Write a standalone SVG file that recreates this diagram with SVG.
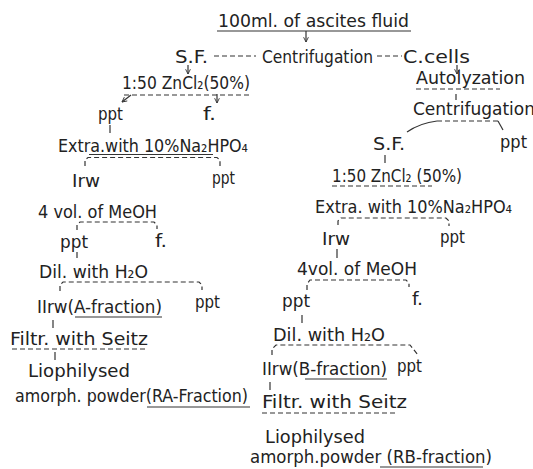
<svg xmlns="http://www.w3.org/2000/svg" width="533" height="469" viewBox="0 0 533 469">
<defs>
<style>
text{font-family:"DejaVu Sans Condensed","DejaVu Sans","Liberation Sans",sans-serif;font-size:18px;fill:#222;font-stretch:condensed}
.ul{stroke:#333;stroke-width:1.2;fill:none}
.du{stroke:#333;stroke-width:1.2;fill:none;stroke-dasharray:5 3}
.c{stroke:#333;stroke-width:1.2;fill:none}
.cd{stroke:#333;stroke-width:1.2;fill:none;stroke-dasharray:5 3}
.a{stroke:#333;stroke-width:1.2;fill:none;marker-end:url(#ah)}
</style>
<marker id="ah" viewBox="0 0 10 10" refX="9" refY="5" markerWidth="6" markerHeight="6" orient="auto" markerUnits="userSpaceOnUse">
<path d="M1,1 L9,5 L1,9" fill="none" stroke="#333" stroke-width="1.5"/>
</marker>
</defs>
<rect width="533" height="469" fill="#fff"/>

<g id="connectors">
<line class="a" x1="306" y1="31" x2="306" y2="42"/>
<line class="cd" x1="214" y1="56" x2="256" y2="56"/>
<line class="cd" x1="377" y1="56" x2="402" y2="56"/>
<line class="a" x1="188" y1="65" x2="188" y2="74"/>
<line class="a" x1="457" y1="65" x2="457" y2="74"/>
<line class="a" x1="131" y1="95" x2="122" y2="102"/>
<line class="a" x1="217" y1="94" x2="217" y2="103"/>
<line class="c" x1="110" y1="125" x2="110" y2="133"/>
<path class="cd" d="M85,166 L85,160 L88,157.5 L217,157.5 L220,160 L220,166"/>
<path class="cd" d="M77,230 L77,225 L80,222 L154,222 L157,225 L157,229"/>
<line class="c" x1="77" y1="252" x2="77" y2="258"/>
<path class="cd" d="M60,291 L60,285 L63,282 L199,282 L202,285 L202,290"/>
<line class="c" x1="53" y1="320" x2="53" y2="328"/>
<line class="c" x1="55" y1="352" x2="55" y2="360"/>
<line class="c" x1="456" y1="94" x2="456" y2="100"/>
<path class="c" d="M407,132 Q420,123 437,121"/>
<line class="c" x1="498" y1="121" x2="503" y2="130"/>
<line class="c" x1="385" y1="155" x2="385" y2="163"/>
<path class="cd" d="M338,225 L338,221 L341,218 L446,218 L449,221 L449,226"/>
<line class="c" x1="337" y1="249" x2="337" y2="258"/>
<path class="cd" d="M307,290 L307,284 L310,280 L406,280 L409,283 L409,287"/>
<line class="c" x1="302" y1="315" x2="302" y2="323"/>
<path class="cd" d="M272,355 L272,349 L276,345 L410,345 L418,355"/>
<line class="c" x1="270" y1="382" x2="270" y2="390"/>
</g>

<g id="n-title">
<text x="218" y="27" textLength="191" lengthAdjust="spacingAndGlyphs">100ml. of ascites fluid</text>
<line class="ul" x1="217" y1="31" x2="411" y2="31"/>
</g>
<g id="n-sf1"><text x="175" y="63" textLength="33" lengthAdjust="spacingAndGlyphs">S.F.</text></g>
<g id="n-centrif1"><text x="262" y="63" textLength="111" lengthAdjust="spacingAndGlyphs">Centrifugation</text></g>
<g id="n-ccells"><text x="403" y="63" textLength="67" lengthAdjust="spacingAndGlyphs">C.cells</text></g>

<g id="n-zn1">
<text x="122" y="89" textLength="128" lengthAdjust="spacingAndGlyphs">1:50 ZnCl₂(50%)</text>
<line class="du" x1="124" y1="95" x2="250" y2="95"/>
</g>
<g id="n-ppt1"><text x="98" y="120" textLength="25" lengthAdjust="spacingAndGlyphs">ppt</text></g>
<g id="n-f1"><text x="203" y="120" textLength="13" lengthAdjust="spacingAndGlyphs">f.</text></g>
<g id="n-extra1">
<text x="58" y="152" textLength="190" lengthAdjust="spacingAndGlyphs">Extra.with 10%Na₂HPO₄</text>
<line class="ul" x1="89" y1="154.5" x2="213" y2="154.5"/>
</g>
<g id="n-irw1"><text x="72" y="187" textLength="28" lengthAdjust="spacingAndGlyphs">Irw</text></g>
<g id="n-ppt2"><text x="212" y="184" textLength="23" lengthAdjust="spacingAndGlyphs">ppt</text></g>
<g id="n-meoh1"><text x="38" y="218" textLength="119" lengthAdjust="spacingAndGlyphs">4 vol. of MeOH</text></g>
<g id="n-ppt3"><text x="60" y="248" textLength="28" lengthAdjust="spacingAndGlyphs">ppt</text></g>
<g id="n-f2"><text x="155" y="247" textLength="12" lengthAdjust="spacingAndGlyphs">f.</text></g>
<g id="n-dil1"><text x="39" y="278" textLength="109" lengthAdjust="spacingAndGlyphs">Dil. with H₂O</text></g>
<g id="n-afrac">
<text x="37" y="313" textLength="125" lengthAdjust="spacingAndGlyphs">IIrw(A-fraction)</text>
<line class="ul" x1="75" y1="317" x2="162" y2="317"/>
</g>
<g id="n-ppt4"><text x="195" y="308" textLength="25" lengthAdjust="spacingAndGlyphs">ppt</text></g>
<g id="n-filtr1">
<text x="10" y="345" textLength="138" lengthAdjust="spacingAndGlyphs">Filtr. with Seitz</text>
<line class="du" x1="12" y1="349" x2="147" y2="349"/>
</g>
<g id="n-lio1"><text x="28" y="377" textLength="102" lengthAdjust="spacingAndGlyphs">Liophilysed</text></g>
<g id="n-ra">
<text x="15" y="402" textLength="233" lengthAdjust="spacingAndGlyphs">amorph. powder(RA-Fraction)</text>
<line class="ul" x1="147" y1="407" x2="250" y2="407"/>
</g>

<g id="n-autol">
<text x="416" y="84" textLength="109" lengthAdjust="spacingAndGlyphs">Autolyzation</text>
<line class="du" x1="416" y1="89" x2="500" y2="89"/>
</g>
<g id="n-centrif2">
<text x="413" y="115" textLength="122" lengthAdjust="spacingAndGlyphs">Centrifugation</text>
<line class="du" x1="437" y1="121" x2="498" y2="121"/>
</g>
<g id="n-sf2"><text x="373" y="150" textLength="32" lengthAdjust="spacingAndGlyphs">S.F.</text></g>
<g id="n-ppt5"><text x="500" y="148" textLength="27" lengthAdjust="spacingAndGlyphs">ppt</text></g>
<g id="n-zn2">
<text x="332" y="182" textLength="130" lengthAdjust="spacingAndGlyphs">1:50 ZnCl₂ (50%)</text>
<line class="du" x1="332" y1="186" x2="432" y2="186"/>
</g>
<g id="n-extra2"><text x="315" y="213" textLength="197" lengthAdjust="spacingAndGlyphs">Extra. with 10%Na₂HPO₄</text></g>
<g id="n-irw2"><text x="322" y="245" textLength="28" lengthAdjust="spacingAndGlyphs">Irw</text></g>
<g id="n-ppt6"><text x="440" y="243" textLength="25" lengthAdjust="spacingAndGlyphs">ppt</text></g>
<g id="n-meoh2"><text x="297" y="275" textLength="120" lengthAdjust="spacingAndGlyphs">4vol. of MeOH</text></g>
<g id="n-ppt7"><text x="282" y="307" textLength="28" lengthAdjust="spacingAndGlyphs">ppt</text></g>
<g id="n-f3"><text x="412" y="305" textLength="11" lengthAdjust="spacingAndGlyphs">f.</text></g>
<g id="n-dil2"><text x="273" y="341" textLength="112" lengthAdjust="spacingAndGlyphs">Dil. with H₂O</text></g>
<g id="n-bfrac">
<text x="262" y="375" textLength="125" lengthAdjust="spacingAndGlyphs">IIrw(B-fraction)</text>
<line class="ul" x1="305" y1="379" x2="387" y2="379"/>
</g>
<g id="n-ppt8"><text x="397" y="372" textLength="25" lengthAdjust="spacingAndGlyphs">ppt</text></g>
<g id="n-filtr2">
<text x="262" y="408" textLength="145" lengthAdjust="spacingAndGlyphs">Filtr. with Seitz</text>
<line class="du" x1="262" y1="413" x2="395" y2="413"/>
</g>
<g id="n-lio2"><text x="265" y="443" textLength="100" lengthAdjust="spacingAndGlyphs">Liophilysed</text></g>
<g id="n-rb">
<text x="250" y="463" textLength="242" lengthAdjust="spacingAndGlyphs">amorph.powder (RB-fraction)</text>
<line class="ul" x1="380" y1="467" x2="483" y2="467"/>
</g>
</svg>
